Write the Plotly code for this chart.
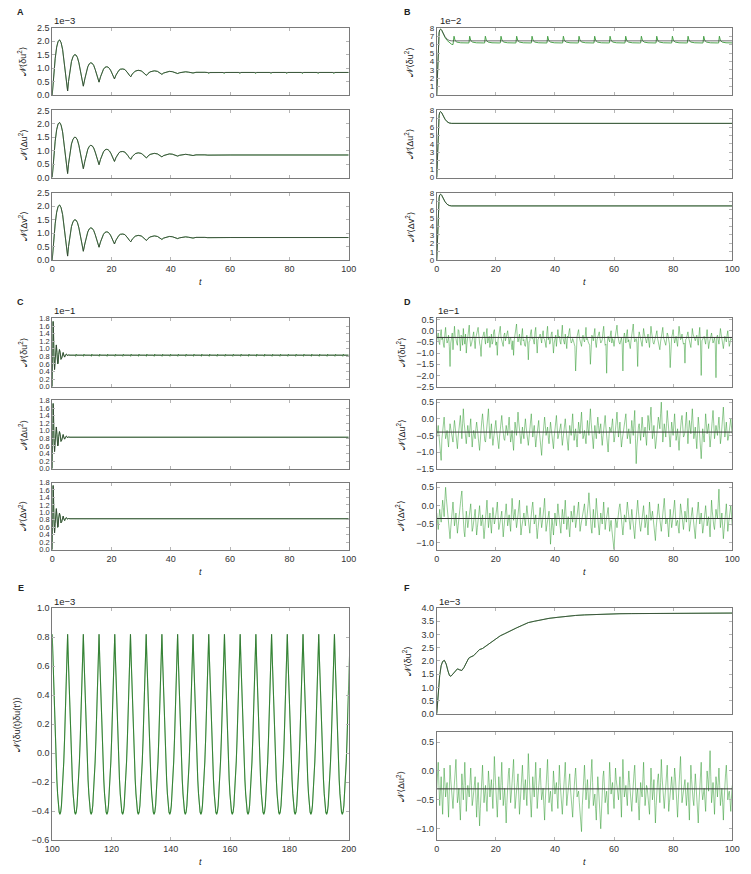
import plotly.graph_objects as go

W, H = 751, 874
PAD = 8  # the page body keeps its default 8 px margin
FW, FH = W - PAD, H - PAD

# ---- panel A : damped oscillation, units 1e-3 ----
a_t = [0, 0.5, 1.0, 1.5, 2.0, 2.5, 3.0, 3.5, 4.0, 4.5,
       5.0, 5.2, 5.5, 6.0, 6.5, 7.0, 7.5, 8.0, 8.5, 9.0,
       9.5, 10.0, 10.5, 11.0, 11.5, 12.0, 12.5, 13.0, 13.5, 14.0,
       14.5, 15.0, 15.5, 15.8, 16.3, 16.8, 17.3, 17.8, 18.3, 18.8,
       19.3, 19.8, 20.3, 20.8, 21.0, 21.5, 22.0, 22.5, 23.0, 23.8,
       24.5, 25.0, 25.5, 26.0, 26.5, 27.0, 27.5, 28.0, 29.0, 30.0,
       30.5, 31.0, 31.8, 32.3, 33.0, 34.0, 34.5, 35.5, 36.3, 37.0,
       37.6, 38.5, 39.5, 40.5, 41.5, 42.3, 43.0, 44.0, 45.0, 46.0,
       47.5, 48.5, 50.0, 51.5, 52.5, 55.0, 60.0, 100.0]
a_v = [0, 0.75, 1.35, 1.78, 2.0, 2.05, 1.95, 1.7, 1.3, 0.85,
       0.32, 0.15, 0.5, 0.95, 1.25, 1.42, 1.5, 1.49, 1.4, 1.2,
       0.95, 0.65, 0.33, 0.6, 0.85, 1.05, 1.16, 1.2, 1.18, 1.1,
       0.95, 0.78, 0.58, 0.48, 0.68, 0.85, 0.96, 1.03, 1.05, 1.04,
       0.99, 0.9, 0.78, 0.65, 0.6, 0.74, 0.85, 0.92, 0.96, 0.97,
       0.95, 0.9, 0.82, 0.74, 0.68, 0.78, 0.85, 0.89, 0.92, 0.9,
       0.86, 0.8, 0.73, 0.8, 0.86, 0.89, 0.9, 0.88, 0.82, 0.77,
       0.82, 0.86, 0.88, 0.87, 0.83, 0.8, 0.83, 0.86, 0.865, 0.85,
       0.82, 0.845, 0.855, 0.845, 0.835, 0.845, 0.84, 0.84]
a_dip_t = [52.8, 58.0, 63.3, 68.6, 73.8, 79.1, 84.4, 89.7, 95.0]
a_dip_v = 0.795
a_level = 0.84

# ---- panel B : units 1e-2 ----
b_t = [0, 0.2, 0.4, 0.6, 0.8, 1.0, 1.3, 1.7, 2.2, 2.8, 3.5, 4.2, 5.0, 6.0, 100]
b_v = [0, 2.5, 4.8, 6.5, 7.4, 7.75, 7.85, 7.7, 7.35, 6.95, 6.65, 6.5, 6.45, 6.45, 6.45]
b_green_t = [0, 0.2, 0.4, 0.6, 0.8, 1.0, 1.3, 1.7, 2.2, 2.8, 3.5, 4.2, 5.0, 5.5]
b_green_v = [0, 2.5, 4.8, 6.5, 7.4, 7.75, 7.85, 7.7, 7.3, 6.85, 6.5, 6.25, 6.05, 6.0]
b_spike_t = [5.6, 10.9, 16.2, 21.5, 26.8, 32.0, 37.3, 42.6, 47.9, 53.2,
             58.4, 63.7, 69.0, 74.2, 79.5, 84.8, 90.1, 95.4]
b_spike_dt = [0, 0.25, 0.6, 1.2, 2.5, 5.0]
b_spike_v = [6.2, 7.0, 6.5, 6.3, 6.22, 6.2]

# ---- panel C : units 1e-1 ----
c_t = [0, 0.15, 0.3, 0.45, 0.6, 0.8, 1.0, 1.2, 1.4, 1.6, 1.85, 2.0, 2.2,
       2.45, 2.7, 2.95, 3.2, 3.45, 3.7, 3.95, 4.2, 4.5, 4.8, 5.1, 5.5, 6.0, 100]
c_v = [0, 1.0, 1.72, 1.4, 0.8, 0.45, 0.7, 1.05, 1.1, 0.9, 0.6, 0.62, 0.85,
       0.98, 0.9, 0.72, 0.75, 0.88, 0.9, 0.82, 0.78, 0.84, 0.86, 0.82, 0.835, 0.83, 0.83]
c_dip_t = [7.9, 10.55, 13.2, 15.85, 18.5, 21.15, 23.8, 26.45, 29.1, 31.75,
           34.4, 37.05, 39.7, 42.35, 45.0, 47.65, 50.3, 52.95, 55.6, 58.25,
           60.9, 63.55, 66.2, 68.85, 71.5, 74.15, 76.8, 79.45, 82.1, 84.75,
           87.4, 90.05, 92.7, 95.35, 98.0]
c_level = 0.83

# ---- panel D : noisy estimates, units 1e-1 ----
# *_v sampled at t = 0, 0.5, ..., 100 ; *_mid at t = 0.25, 0.75, ..., 99.75
d1_v = [-0.45, -0.10, -0.62, 0.05, -0.30, -0.75, 0.15, -0.55, -0.20, -1.60,
        -0.40, -0.85, 0.20, -0.35, -0.65, 0.00, -0.90, -0.25, 0.10, -0.60,
        -1.00, -0.30, 0.25, -0.70, -0.45, -0.05, -0.80, -0.20, 0.15, -0.55,
        -1.15, -0.35, -0.05, -0.60, 0.10, -0.40, -0.75, -0.15, -0.50, 0.05,
        -0.65, -1.10, -0.25, 0.20, -0.45, -0.70, -0.10, -0.35, 0.00, -0.60,
        -0.30, -0.85, -1.10, -0.20, 0.30, -0.50, -0.15, -0.65, 0.10, -0.40,
        -0.70, -0.20, -1.30, -0.45, 0.05, -0.30, -0.60, 0.15, -1.00, -0.35,
        -0.15, -0.55, 0.00, -0.40, -0.75, 0.20, -0.30, -0.50, -0.05, -1.00,
        -0.40, -0.70, 0.05, -0.25, -0.60, 0.25, -0.45, -0.15, -0.80, -0.30,
        0.10, -0.55, -0.35, -0.65, -1.80, -0.25, 0.05, -0.45, -0.70, -0.20,
        -0.50, 0.15, -0.35, -0.60, -1.50, -0.20, -0.45, 0.10, -0.75, -0.30,
        -0.05, -0.55, -0.40, 0.20, -0.65, -1.90, -0.25, -0.50, 0.00, -0.35,
        -0.70, -0.15, 0.25, -0.45, -0.60, -0.30, -1.80, -0.10, -0.55, 0.05,
        -0.40, -0.80, -0.20, 0.30, -0.50, -0.35, -1.60, -0.05, -0.45, -0.70,
        0.10, -0.30, -0.55, -0.15, -0.75, 0.20, -0.40, -0.60, -0.25, 0.00,
        -0.50, -0.85, -0.20, 0.15, -0.45, -0.65, -0.10, -0.35, -1.65, -0.30,
        0.05, -0.55, -0.25, -0.70, 0.20, -0.40, -0.15, -0.60, -1.45, -0.35,
        -0.05, -0.50, -0.75, 0.10, -0.30, -0.45, -0.20, -0.65, 0.15, -2.00,
        -0.40, -0.25, -0.60, 0.05, -0.80, -0.35, -0.10, -0.55, -0.30, -2.10,
        -0.20, -0.60, 0.10, -0.45, -0.80, -0.25, -0.50, 0.00, -0.70, -0.35,
        -0.40]
d1_mid = [-0.25, -0.50, -0.20, -0.40, -0.60, -0.15, -0.35, -0.45, -0.70, -0.55,
          -0.10, -0.45, -0.30, -0.55, 0.05, -0.40, -0.20, -0.65, -0.35, -0.15,
          -0.55, -0.05, -0.40, -0.60, -0.20, -0.45, -0.30, 0.00, -0.50, -0.70,
          -0.45, -0.20, -0.35, -0.15, -0.55, -0.25, -0.40, -0.60, -0.05, -0.30,
          -0.50, -0.40, 0.05, -0.30, -0.60, -0.20, -0.45, -0.15, -0.55, -0.35,
          -0.60, -0.45, -0.40, 0.10, -0.25, -0.35, -0.50, -0.20, -0.45, -0.65,
          -0.40, -0.55, -0.50, -0.10, -0.35, -0.45, -0.05, -0.50, -0.40, -0.25,
          -0.45, -0.20, -0.35, -0.55, -0.10, -0.40, -0.60, -0.15, -0.50, -0.55,
          -0.20, -0.45, -0.30, -0.50, -0.15, -0.35, -0.60, -0.40, -0.25, -0.05,
          -0.35, -0.50, -0.45, -0.70, -0.55, -0.10, -0.30, -0.60, -0.35, -0.40,
          -0.25, -0.40, -0.50, -0.65, -0.45, -0.30, -0.15, -0.55, -0.40, -0.20,
          -0.35, -0.50, -0.05, -0.30, -0.60, -0.50, -0.40, -0.20, -0.55, -0.45,
          -0.40, 0.05, -0.20, -0.55, -0.45, -0.60, -0.35, -0.30, -0.15, -0.50,
          -0.65, -0.45, 0.00, -0.25, -0.40, -0.55, -0.35, -0.20, -0.60, -0.30,
          -0.15, -0.45, -0.35, -0.50, -0.25, -0.10, -0.55, -0.40, -0.15, -0.35,
          -0.65, -0.50, -0.05, -0.30, -0.55, -0.40, -0.20, -0.60, -0.45, -0.15,
          -0.30, -0.40, -0.50, -0.20, -0.10, -0.35, -0.45, -0.55, -0.40, -0.20,
          -0.30, -0.60, -0.35, -0.15, -0.40, -0.30, -0.45, -0.20, -0.55, -0.45,
          -0.35, -0.45, -0.25, -0.40, -0.55, -0.20, -0.35, -0.45, -0.60, -0.30,
          -0.40, -0.25, -0.15, -0.65, -0.50, -0.35, -0.20, -0.40, -0.55, -0.40]
d2_v = [-0.55, -0.20, -0.70, -1.25, -0.30, 0.05, -0.60, -0.35, -0.85, -0.15,
        -0.45, -0.70, -0.05, -0.50, -0.90, -0.25, 0.10, -0.60, 0.30, -0.40,
        -0.75, -0.20, -0.55, 0.00, -0.85, -0.35, -0.60, -0.10, -0.45, -0.95,
        -0.25, 0.15, -0.50, -0.70, -0.30, 0.30, -0.60, -0.15, -0.80, -0.40,
        -0.05, -0.55, -0.90, -0.25, 0.10, -0.45, -0.65, -0.20, -0.50, 0.05,
        -0.70, -0.35, -0.95, -0.10, -0.50, 0.20, -0.40, -0.75, -0.25, -0.60,
        0.00, -0.45, -0.80, -0.30, 0.15, -0.55, -0.20, -0.85, -0.40, -0.05,
        -0.65, -1.10, -0.35, 0.05, -0.50, -0.25, -0.75, -0.10, -0.45, -0.90,
        -0.30, 0.10, -0.60, -0.40, -0.15, -0.80, -0.35, 0.00, -0.55, -0.95,
        -0.20, -0.50, 0.15, -0.65, -0.30, -0.85, -0.10, -0.45, 0.20, -0.60,
        -0.35, -0.75, -0.05, -0.50, 0.30, -0.40, -0.90, -0.20, -0.60, 0.05,
        -0.45, -0.15, -0.80, -0.30, 0.10, -0.55, -1.00, -0.25, -0.40, 0.00,
        -0.70, -0.35, 0.20, -0.55, -0.10, -0.85, -0.45, -0.20, 0.15, -0.60,
        -0.30, -0.75, -0.05, -0.50, 0.25, -1.35, -0.40, -0.15, -0.65, 0.05,
        -0.55, -0.25, -0.80, 0.10, -0.35, 0.35, -0.60, -0.20, -0.90, -0.45,
        0.05, -0.30, 0.50, -0.70, -0.15, -0.55, 0.25, -0.40, -0.85, -0.10,
        -0.50, 0.15, -0.65, -0.30, -0.95, -0.20, 0.10, -0.55, -0.40, 0.20,
        -0.75, -0.05, -0.45, 0.30, -0.60, -0.25, -0.90, 0.05, -0.50, -1.20,
        -0.30, -0.70, 0.15, -0.45, -0.15, -0.85, -0.35, 0.25, -0.60, -0.20,
        -0.50, 0.05, -0.75, -0.30, 0.35, -0.55, -0.10, -0.65, -0.40, 0.00,
        -0.45]
d2_mid = [-0.35, -0.50, -0.95, -0.60, -0.10, -0.30, -0.50, -0.65, -0.45, -0.30,
          -0.60, -0.30, -0.25, -0.75, -0.55, -0.05, -0.25, -0.15, -0.10, -0.65,
          -0.45, -0.40, -0.25, -0.45, -0.55, -0.50, -0.30, -0.30, -0.75, -0.55,
          -0.05, -0.20, -0.65, -0.45, 0.00, -0.20, -0.40, -0.50, -0.60, -0.20,
          -0.35, -0.75, -0.55, -0.05, -0.20, -0.60, -0.40, -0.35, -0.20, -0.35,
          -0.55, -0.70, -0.50, -0.30, -0.15, -0.10, -0.60, -0.50, -0.45, -0.25,
          -0.25, -0.65, -0.55, -0.10, -0.25, -0.35, -0.55, -0.60, -0.20, -0.40,
          -0.85, -0.70, -0.15, -0.20, -0.40, -0.55, -0.40, -0.30, -0.70, -0.55,
          -0.10, -0.25, -0.50, -0.25, -0.50, -0.60, -0.15, -0.30, -0.75, -0.55,
          -0.35, -0.15, -0.30, -0.45, -0.60, -0.45, -0.30, -0.10, -0.25, -0.50,
          -0.55, -0.40, -0.30, -0.05, -0.10, -0.70, -0.50, -0.40, -0.25, -0.20,
          -0.30, -0.50, -0.55, -0.10, -0.25, -0.80, -0.60, -0.30, -0.20, -0.35,
          -0.55, -0.10, -0.20, -0.35, -0.50, -0.65, -0.30, -0.05, -0.25, -0.45,
          -0.55, -0.40, -0.30, -0.10, -0.60, -0.85, -0.25, -0.40, -0.30, -0.25,
          -0.40, -0.55, -0.35, -0.10, 0.05, -0.15, -0.40, -0.55, -0.70, -0.20,
          -0.10, 0.15, -0.10, -0.45, -0.35, -0.15, -0.05, -0.65, -0.50, -0.30,
          -0.15, -0.25, -0.50, -0.65, -0.55, -0.05, -0.20, -0.50, -0.10, -0.30,
          -0.40, -0.25, -0.05, -0.15, -0.45, -0.60, -0.40, -0.20, -0.85, -0.75,
          -0.50, -0.30, -0.15, -0.30, -0.50, -0.60, -0.05, -0.15, -0.40, -0.35,
          -0.20, -0.35, -0.55, 0.05, -0.10, -0.35, -0.40, -0.55, -0.20, -0.25]
d3_v = [-0.20, -0.65, -0.10, -0.45, 0.15, -0.30, 0.50, -0.05, -0.60, -0.90,
        -0.35, 0.10, -0.55, -0.20, -0.75, -0.40, 0.05, 0.40, -0.50, -0.85,
        -0.15, -0.60, -0.30, 0.05, -0.70, -0.45, -0.10, -0.80, -0.35, 0.00,
        -0.55, -0.25, -0.90, -0.40, 0.15, -0.60, -0.20, -0.75, -0.05, -0.50,
        -0.30, 0.10, -0.65, -0.45, -0.15, -0.85, -0.35, 0.05, -0.55, -0.25,
        -0.70, 0.20, -0.40, -0.10, -0.60, -0.30, 0.15, -0.80, -0.45, -0.20,
        -0.55, 0.00, -0.35, -0.75, -0.15, 0.10, -0.50, -0.25, -0.90, -0.40,
        -0.05, -0.60, -0.30, 0.20, -0.70, -0.45, -0.15, -1.05, -0.35, -0.80,
        -0.20, -0.55, 0.05, -0.40, -0.75, -0.10, -0.50, 0.15, -0.65, -0.30,
        -0.85, -0.15, -0.45, 0.00, -0.60, -0.30, 0.10, -0.70, -0.40, -0.20,
        0.05, -0.55, -0.25, 0.35, -0.45, -0.75, -0.10, -0.60, 0.20, -0.35,
        -0.80, -0.20, -0.50, 0.10, -0.65, -0.30, -0.05, -0.70, -0.40, -0.90,
        -1.20, -0.35, -0.60, -0.15, 0.05, -0.50, -0.80, -0.25, -0.45, 0.10,
        -0.30, -0.65, -0.10, -0.55, -0.90, -0.20, 0.15, -0.45, -0.70, -0.35,
        0.00, -0.60, -0.25, -0.80, 0.10, -0.40, -0.15, -0.55, -0.95, -0.30,
        0.05, -0.45, -0.70, -0.20, 0.20, -0.50, -0.35, -0.85, -0.10, -0.60,
        -0.25, 0.15, -0.55, -0.40, -0.75, 0.05, -0.30, -0.65, -0.15, -0.45,
        0.20, -0.70, -0.35, -0.05, -0.60, -0.90, -0.25, 0.10, -0.50, -0.20,
        -0.75, -0.40, 0.00, -0.55, -0.30, -0.85, 0.15, -0.45, -0.65, -0.10,
        -0.35, 0.45, -0.60, -0.20, -0.90, -0.40, 0.05, -0.70, -0.30, 0.00,
        -0.55]
d3_mid = [-0.45, -0.35, -0.30, -0.15, -0.05, 0.15, 0.20, -0.35, -0.75, -0.60,
          -0.10, -0.20, -0.40, -0.50, -0.55, -0.15, 0.25, -0.05, -0.70, -0.50,
          -0.35, -0.45, -0.10, -0.30, -0.60, -0.25, -0.45, -0.60, -0.15, -0.30,
          -0.40, -0.60, -0.65, -0.10, -0.25, -0.40, -0.50, -0.40, -0.25, -0.40,
          -0.10, -0.25, -0.55, -0.30, -0.50, -0.60, -0.15, -0.25, -0.40, -0.50,
          -0.25, -0.10, -0.25, -0.35, -0.45, -0.05, -0.35, -0.60, -0.30, -0.40,
          -0.25, -0.20, -0.55, -0.45, -0.05, -0.20, -0.40, -0.60, -0.65, -0.20,
          -0.35, -0.45, -0.05, -0.25, -0.55, -0.30, -0.60, -0.70, -0.55, -0.50,
          -0.40, -0.25, -0.20, -0.60, -0.40, -0.30, -0.15, -0.25, -0.45, -0.60,
          -0.50, -0.30, -0.20, -0.30, -0.45, -0.10, -0.30, -0.55, -0.30, -0.10,
          -0.25, -0.40, 0.05, -0.05, -0.60, -0.45, -0.35, -0.20, -0.10, -0.55,
          -0.50, -0.35, -0.20, -0.30, -0.45, -0.15, -0.35, -0.55, -0.65, -1.00,
          -0.80, -0.45, -0.40, -0.05, -0.20, -0.65, -0.55, -0.35, -0.15, -0.10,
          -0.45, -0.40, -0.30, -0.70, -0.55, -0.05, -0.15, -0.55, -0.50, -0.20,
          -0.30, -0.45, -0.50, -0.35, -0.15, -0.30, -0.35, -0.75, -0.60, -0.15,
          -0.20, -0.55, -0.45, 0.00, -0.15, -0.40, -0.60, -0.45, -0.35, -0.45,
          -0.05, -0.20, -0.45, -0.60, -0.35, -0.10, -0.45, -0.40, -0.30, -0.10,
          -0.25, -0.55, -0.20, -0.30, -0.75, -0.55, -0.05, -0.20, -0.35, -0.45,
          -0.60, -0.20, -0.25, -0.40, -0.55, -0.35, -0.15, -0.55, -0.40, -0.25,
          0.05, -0.10, -0.40, -0.55, -0.65, -0.20, -0.30, -0.50, -0.15, -0.25]
d_level = [-0.30, -0.40, -0.35]

# ---- panel E : autocorrelation, units 1e-3 ----
e_peak_t = [100.0, 105.2, 110.5, 115.8, 121.1, 126.4, 131.7, 137.0, 142.3, 147.5,
            152.8, 158.1, 163.4, 168.7, 174.0, 179.3, 184.6, 189.9, 195.2, 200.5]
e_frac = [0.0, 0.05, 0.1, 0.15, 0.2, 0.25, 0.3, 0.35, 0.4, 0.45,
          0.5, 0.55, 0.6, 0.65, 0.7, 0.75, 0.8, 0.85, 0.9, 0.95]
e_shape = [0.82, 0.63, 0.44, 0.26, 0.09, -0.06, -0.18, -0.28, -0.36, -0.405,
           -0.42, -0.405, -0.36, -0.28, -0.18, -0.06, 0.09, 0.26, 0.44, 0.63]

# ---- panel F : units 1e-3 ----
f_t = [0, 0.3, 0.6, 1.0, 1.5, 2.0, 2.6, 3.2, 3.8, 4.3, 4.8, 5.5, 6.2, 7.0, 7.8,
       8.5, 9.2, 10.0, 10.8, 11.5, 12.5, 13.5, 14.5, 15.5, 16.5, 17.5, 18.5, 20,
       21.5, 23, 25, 27, 29, 31, 33, 35, 38, 41, 44, 47, 50, 54, 58, 62, 66, 70,
       75, 80, 85, 90, 95, 100]
f_v = [0, 0.55, 1.0, 1.45, 1.82, 1.98, 2.02, 1.88, 1.62, 1.45, 1.42, 1.52, 1.63,
       1.70, 1.66, 1.64, 1.75, 1.95, 2.10, 2.15, 2.20, 2.32, 2.43, 2.47, 2.55,
       2.65, 2.72, 2.83, 2.95, 3.03, 3.15, 3.25, 3.35, 3.45, 3.50, 3.55, 3.61,
       3.65, 3.69, 3.72, 3.74, 3.76, 3.775, 3.785, 3.79, 3.795, 3.80, 3.80,
       3.805, 3.805, 3.81, 3.81]
f2_v = [-0.30, 0.15, -0.60, -0.10, -0.75, 0.05, -0.45, -0.20, -0.80, 0.10,
        -0.40, -0.65, -0.15, 0.20, -0.55, -0.30, -0.85, -0.05, -0.50, 0.15,
        -0.70, -0.25, -0.45, 0.05, -0.60, -0.35, -0.10, -0.80, -0.20, -0.95,
        -0.40, 0.10, -0.55, -0.25, -0.70, 0.00, -0.45, -0.15, -0.65, 0.25,
        -0.35, -0.80, -0.10, -0.50, 0.15, -0.60, -0.30, -0.90, -0.20, 0.05,
        -0.55, -0.25, 0.20, -0.65, -0.40, -0.05, -0.75, -0.30, 0.10, -0.50,
        -0.15, -0.60, 0.30, -0.35, -0.80, -0.10, -0.45, 0.15, -0.65, -0.25,
        0.05, -0.50, -0.30, -0.85, -0.15, 0.20, -0.55, -0.35, -0.70, 0.00,
        -0.40, -0.20, -0.65, 0.10, -0.45, -0.75, -0.25, 0.15, -0.60, -0.30,
        -0.05, -0.55, -0.80, -0.20, 0.05, -0.45, -0.35, -0.70, -1.05, -0.25,
        0.10, -0.50, -0.15, -0.65, -0.30, 0.20, -0.60, -0.40, -0.85, -0.10,
        -0.45, -1.00, -0.20, 0.00, -0.55, -0.35, -0.75, 0.15, -0.40, -0.20,
        -0.65, 0.05, -0.30, -0.50, -0.10, -0.80, 0.20, -0.45, -0.25, -0.60,
        0.00, -0.35, -0.70, -0.15, 0.10, -0.55, -0.30, -0.85, -0.20, -0.45,
        0.15, -0.60, -0.25, -0.40, -0.75, 0.05, -0.50, -0.15, -0.90, -0.30,
        -0.05, -0.55, 0.20, -0.35, -0.65, -0.20, 0.10, -0.70, -0.40, -0.10,
        -0.50, 0.05, -0.30, -0.80, -0.25, 0.25, -0.55, -0.35, -0.15, -0.60,
        -0.20, -0.85, 0.10, -0.40, -0.60, -0.05, -0.45, -0.90, -0.25, 0.15,
        -0.50, -0.30, -0.70, 0.00, -0.35, 0.35, -0.55, -0.20, -0.75, -0.10,
        -0.45, 0.05, -0.60, -0.30, -0.85, -0.15, 0.10, -0.50, -0.35, -0.70,
        -0.25]
f2_mid = [-0.10, -0.25, -0.35, -0.45, -0.35, -0.20, -0.30, -0.50, -0.35, -0.15,
          -0.55, -0.40, 0.05, -0.20, -0.45, -0.60, -0.45, -0.25, -0.20, -0.25,
          -0.45, -0.35, -0.20, -0.25, -0.50, -0.20, -0.45, -0.50, -0.60, -0.65,
          -0.15, -0.25, -0.40, -0.50, -0.35, -0.20, -0.30, -0.40, -0.20, -0.05,
          -0.60, -0.45, -0.30, -0.20, -0.25, -0.45, -0.60, -0.55, -0.05, -0.25,
          -0.40, -0.05, -0.20, -0.50, -0.20, -0.40, -0.55, -0.10, -0.20, -0.30,
          -0.40, -0.15, -0.05, -0.60, -0.45, -0.30, -0.15, -0.25, -0.45, -0.10,
          -0.25, -0.40, -0.60, -0.50, 0.00, -0.20, -0.45, -0.55, -0.35, -0.20,
          -0.30, -0.45, -0.25, -0.20, -0.60, -0.50, -0.05, -0.25, -0.45, -0.15,
          -0.30, -0.70, -0.50, -0.10, -0.20, -0.40, -0.55, -0.85, -0.60, -0.05,
          -0.20, -0.35, -0.40, -0.50, -0.05, -0.20, -0.50, -0.65, -0.45, -0.30,
          -0.75, -0.60, -0.10, -0.30, -0.45, -0.55, -0.30, -0.10, -0.30, -0.45,
          -0.30, -0.15, -0.40, -0.30, -0.45, -0.30, -0.15, -0.35, -0.45, -0.25,
          -0.20, -0.55, -0.45, -0.05, -0.25, -0.40, -0.60, -0.50, -0.35, -0.15,
          -0.25, -0.45, -0.30, -0.60, -0.35, -0.20, -0.35, -0.55, -0.60, -0.15,
          -0.30, -0.20, -0.10, -0.50, -0.45, -0.05, -0.30, -0.55, -0.25, -0.30,
          -0.25, -0.10, -0.55, -0.50, 0.00, -0.15, -0.45, -0.25, -0.40, -0.40,
          -0.55, -0.35, -0.15, -0.50, -0.35, -0.25, -0.70, -0.55, -0.05, -0.35,
          -0.40, -0.50, -0.35, -0.15, 0.00, -0.10, -0.40, -0.45, -0.40, -0.25,
          -0.20, -0.25, -0.45, -0.55, -0.50, -0.05, -0.20, -0.40, -0.50, -0.45]
f2_level = -0.31

DARK = "#333333"
GREEN = "#3c9a3c"
NOISE = "rgba(40,150,40,0.7)"
BOX = "#7a7a7a"
TICK = "#b5b5b5"
FONT = "Liberation Sans, Arial, DejaVu Sans, sans-serif"

fig = go.Figure()


def merge(coarse, fine):
    # interleave the half-step samples with the quarter-step ones
    t, v = [], []
    for i, c in enumerate(coarse):
        t.append(i * 0.5)
        v.append(c)
        if i < len(fine):
            t.append(i * 0.5 + 0.25)
            v.append(fine[i])
    return t, v


def ax_names(n):
    return ("x", "y") if n == 1 else ("x%d" % n, "y%d" % n)


def add_line(n, x, y, color, width):
    xa, ya = ax_names(n)
    fig.add_trace(go.Scatter(x=x, y=y, mode="lines", xaxis=xa, yaxis=ya,
                             line=dict(color=color, width=width),
                             hoverinfo="skip", showlegend=False))


def dom_x(p):
    return (p - PAD) / FW


def dom_y(p):
    return 1 - (p - PAD) / FH


def set_axes(n, xdom, ydom, xrange, yrange, ydtick, yfmt, xlabels, ysize=9):
    sfx = "" if n == 1 else str(n)
    common = dict(showline=True, linecolor=BOX, linewidth=1, mirror="allticks",
                  ticks="inside", ticklen=3, tickcolor=TICK, tickwidth=1,
                  showgrid=False, zeroline=False)
    fig.update_layout(**{
        "xaxis" + sfx: dict(domain=[dom_x(xdom[0]), dom_x(xdom[1])], range=xrange,
                            tick0=0, dtick=20, anchor="y" + sfx,
                            showticklabels=xlabels,
                            tickfont=dict(size=9, color="#333", family=FONT), **common),
        "yaxis" + sfx: dict(domain=[dom_y(ydom[1]), dom_y(ydom[0])], range=yrange,
                            tick0=0, dtick=ydtick, tickformat=yfmt, anchor="x" + sfx,
                            tickfont=dict(size=ysize, color="#333", family=FONT), **common),
    })


LEFT = (45, 348)
RIGHT = (438, 740)
ROW1 = [(23, 91), (106.5, 174.5), (190, 258)]
ROW2 = [(317, 386), (400, 469), (483, 551)]

annotations = []


def note(text, px, py, size=9, angle=0, bold=False, italic=False, xanchor="center"):
    if bold:
        text = "<b>%s</b>" % text
    if italic:
        text = "<i>%s</i>" % text
    annotations.append(dict(text=text, x=dom_x(px), y=dom_y(py), xref="paper", yref="paper",
                            showarrow=False, textangle=angle, xanchor=xanchor,
                            yanchor="middle", font=dict(size=size, color="#222", family=FONT)))


titles3 = ["𝒩⟨δu<sup>2</sup>⟩", "𝒩⟨Δu<sup>2</sup>⟩", "𝒩⟨Δv<sup>2</sup>⟩"]

n = 0
# panel A
for i in range(3):
    n += 1
    set_axes(n, LEFT, ROW1[i], [0, 100], [0, 2.5], 0.5, ".1f", i == 2)
    if i == 0:
        gx = [t for t in a_t if t < 52]
        gy = [v for t, v in zip(a_t, a_v) if t < 52]
        for d in a_dip_t:
            gx += [d - 0.4, d, d + 0.4]
            gy += [a_level, a_dip_v, a_level]
        gx.append(100)
        gy.append(a_level)
        add_line(n, gx, gy, GREEN, 0.9)
    else:
        add_line(n, a_t, a_v, GREEN, 0.9)
    add_line(n, a_t, a_v, DARK, 0.7)
    note(titles3[i], 15, sum(ROW1[i]) / 2, angle=-90)

# panel B
for i in range(3):
    n += 1
    set_axes(n, RIGHT, ROW1[i], [0, 100], [0, 8], 1, "d", i == 2, ysize=8)
    if i == 0:
        gx, gy = list(b_green_t), list(b_green_v)
        for s in b_spike_t:
            gx += [s + dt for dt in b_spike_dt]
            gy += b_spike_v
        gx.append(100)
        gy.append(b_spike_v[-1])
        add_line(n, gx, gy, GREEN, 0.9)
    else:
        add_line(n, b_t, b_v, GREEN, 0.9)
    add_line(n, b_t, b_v, DARK, 0.7)
    note(titles3[i], 410, sum(ROW1[i]) / 2, angle=-90)

# panel C
for i in range(3):
    n += 1
    set_axes(n, LEFT, ROW2[i], [0, 100], [0, 1.8], 0.2, ".1f", i == 2, ysize=7.5)
    if i == 0:
        gx = [t for t in c_t if t < 7]
        gy = [v for t, v in zip(c_t, c_v) if t < 7]
        for d in c_dip_t:
            gx += [d - 0.3, d, d + 0.15, d + 0.4]
            gy += [c_level, c_level - 0.03, c_level + 0.03, c_level]
        gx.append(100)
        gy.append(c_level)
        add_line(n, gx, gy, GREEN, 0.9)
    else:
        add_line(n, c_t, c_v, GREEN, 0.9)
    add_line(n, c_t, c_v, DARK, 0.7)
    note(titles3[i], 15, sum(ROW2[i]) / 2, angle=-90)

# panel D
d_ranges = [[-2.5, 0.55], [-1.5, 0.55], [-1.2, 0.63]]
for i, (vals, mids) in enumerate([(d1_v, d1_mid), (d2_v, d2_mid), (d3_v, d3_mid)]):
    n += 1
    set_axes(n, RIGHT, ROW2[i], [0, 100], d_ranges[i], 0.5, ".1f", i == 2)
    tx, vy = merge(vals, mids)
    add_line(n, tx, vy, NOISE, 0.7)
    add_line(n, [0, 100], [d_level[i], d_level[i]], DARK, 1)
    note(titles3[i], 401, sum(ROW2[i]) / 2, angle=-90)

# panel E
n += 1
set_axes(n, LEFT, (610, 845), [100, 200], [-0.6, 1.0], 0.2, ".1f", True)
ex, ey = [], []
for p0, p1 in zip(e_peak_t[:-1], e_peak_t[1:]):
    for f, v in zip(e_frac, e_shape):
        ex.append(p0 + f * (p1 - p0))
        ey.append(v)
ex.append(e_peak_t[-1])
ey.append(e_shape[0])
add_line(n, ex, ey, GREEN, 1.1)
add_line(n, ex, ey, "#2f5f2f", 0.4)
note("𝒩⟨δu(t)δu(t′)⟩", 9, 727, angle=-90)

# panel F
n += 1
set_axes(n, RIGHT, (610, 717), [0, 100], [0, 4.0], 0.5, ".1f", False)
add_line(n, f_t, f_v, GREEN, 0.9)
add_line(n, f_t, f_v, DARK, 0.7)
note(titles3[0], 408, 663, angle=-90)

n += 1
set_axes(n, RIGHT, (735, 845), [0, 100], [-1.2, 0.68], 0.5, ".1f", True)
tx, vy = merge(f2_v, f2_mid)
add_line(n, tx, vy, NOISE, 0.7)
add_line(n, [0, 100], [f2_level, f2_level], DARK, 1)
note(titles3[1], 401, 790, angle=-90)

# panel letters, offset multipliers and time labels
for letter, px, py in [("A", 12.7, 7), ("B", 408, 7), ("C", 12.7, 300),
                       ("D", 408, 300), ("E", 12.7, 590), ("F", 408, 590)]:
    note(letter, px, py, size=9, bold=True)
for txt, px, py in [("1e−3", 45, 16), ("1e−2", 439, 16), ("1e−1", 45, 309),
                    ("1e−1", 437, 309), ("1e−3", 45, 603), ("1e−3", 438, 603)]:
    note(txt, px, py, size=9.5, xanchor="left")
for py in [280, 574, 867]:
    note("t", sum(LEFT) / 2, py, size=9, italic=True)
    note("t", sum(RIGHT) / 2, py, size=9, italic=True)

fig.update_layout(width=FW, height=FH, margin=dict(l=0, r=0, t=0, b=0),
                  paper_bgcolor="white", plot_bgcolor="white",
                  showlegend=False, annotations=annotations,
                  font=dict(family=FONT, size=9, color="#222"))

fig.write_html("out.html")
